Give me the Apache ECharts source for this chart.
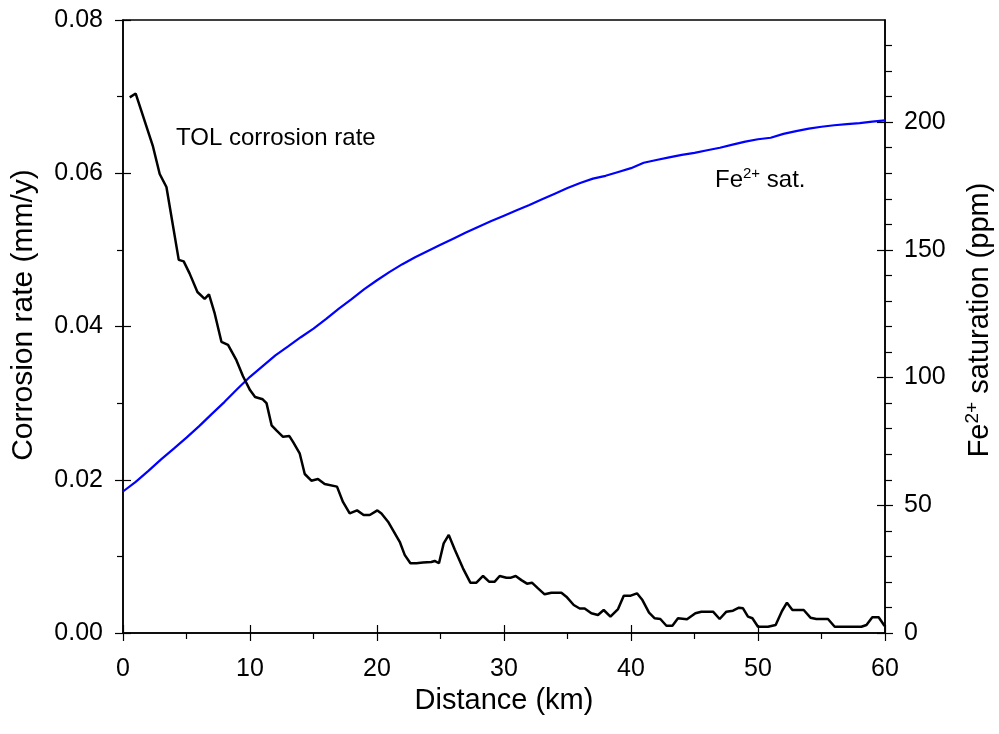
<!DOCTYPE html>
<html>
<head>
<meta charset="utf-8">
<script src="https://cdn.jsdelivr.net/npm/echarts@6/dist/echarts.min.js"></script>
<style>html,body{margin:0;padding:0;background:#fff;}#c{width:999px;height:734px;}</style>
</head>
<body>
<div id="c"></div>
<script>
// Corrosion rate (mm/y) vs distance (km)
var rateDistance = [0.53,1.0,2.36,2.89,3.42,4.39,4.78,5.25,5.86,6.43,6.77,7.22,7.75,8.27,8.93,9.45,10.0,10.4,11.0,11.3,11.7,12.1,12.6,13.1,13.4,13.91,14.31,14.83,15.35,15.88,16.85,17.32,17.85,18.43,18.95,19.43,20.03,20.35,20.87,21.79,22.18,22.63,23.10,23.62,24.28,24.54,24.88,25.25,25.65,26.12,26.77,27.35,27.83,28.35,28.82,29.27,29.66,30.19,30.50,30.92,31.37,31.81,32.20,32.68,33.2,33.73,34.52,34.91,35.49,35.96,36.35,36.88,37.4,37.85,38.38,38.98,39.43,39.98,40.47,40.90,41.42,41.87,42.31,42.79,43.26,43.7,44.41,45.07,45.54,46.46,46.98,47.51,48.03,48.50,48.82,49.21,49.56,50.0,50.79,51.39,51.89,52.28,52.71,53.6,54.13,54.6,55.51,56.04,58.14,58.54,59.0,59.5,59.97];
var rateValues = [0.0699,0.0704,0.0635,0.0599,0.0582,0.0487,0.0485,0.0469,0.0445,0.0436,0.0442,0.0417,0.0380,0.0376,0.0356,0.0335,0.0317,0.0308,0.0305,0.0300,0.0271,0.0264,0.0256,0.0257,0.0249,0.02345,0.02075,0.01988,0.0201,0.01944,0.0191,0.0171,0.0156,0.0160,0.0154,0.0154,0.0160,0.0156,0.01453,0.0119,0.0102,0.0091,0.0091,0.0092,0.00927,0.0094,0.0091,0.0117,0.0128,0.0109,0.00844,0.00657,0.00657,0.00744,0.0067,0.0067,0.00744,0.0072,0.0072,0.00744,0.0069,0.00644,0.00657,0.00583,0.00505,0.00526,0.00526,0.00474,0.00365,0.0032,0.0032,0.00257,0.00235,0.0030,0.00213,0.00313,0.00487,0.00487,0.00518,0.0043,0.00265,0.00192,0.00183,0.00095,0.00095,0.00192,0.00179,0.00257,0.00278,0.00278,0.00183,0.00278,0.00291,0.0033,0.00322,0.00213,0.00192,0.00082,0.00082,0.00104,0.00287,0.00396,0.0030,0.0030,0.0020,0.00183,0.00183,0.00082,0.00082,0.00104,0.00205,0.00205,0.00091];

// Fe2+ saturation (ppm) vs distance (km)
var satDistance = [0,1,2,3,4,5,6,7,8,9,10,11,12,13,14,15,16,17,18,19,20,21,22,23,24,25,26,27,28,29,30,31,32,33,34,35,36,37,38,39,40,41,42,43,44,45,46,47,48,49,50,51,52,53,54,55,56,57,58,59,60];
var satValues = [55.4,59.2,63.5,68,72.2,76.5,81,85.8,90.5,95.5,100.3,104.5,108.7,112.2,115.8,119.2,123,127,130.7,134.6,138.1,141.4,144.4,147.1,149.6,152,154.4,156.8,159.1,161.3,163.4,165.5,167.6,169.8,172,174.2,176.2,177.9,179,180.5,182,184.1,185.2,186.2,187.2,188,189,190,191.2,192.4,193.3,193.9,195.4,196.5,197.5,198.2,198.8,199.2,199.6,200.2,200.7];

var rightMajorTicks = [0,50,100,150,200];
var rightMinorTicks = [10,20,30,40,60,70,80,90,110,120,130,140,160,170,180,190,210,220,230];

var FONT = 'Liberation Sans, Arial, sans-serif';
var chart = echarts.init(document.getElementById('c'));

var rateData = rateDistance.map(function(d,i){return [d, rateValues[i]];});
var satData = satDistance.map(function(d,i){return [d, satValues[i]];});

var lineBlack = {color:'#000', width:1.5};
var tickBlack = {color:'#000', width:1.2};

chart.setOption({
  animation:false,
  backgroundColor:'#fff',
  grid:{left:123,right:114,top:20,bottom:101,show:true,borderColor:'#000',borderWidth:1.5,backgroundColor:'transparent',containLabel:false,outerBoundsMode:'none'},
  xAxis:[
    {type:'value',min:0,max:60,interval:10,position:'bottom',
     axisLine:{show:true,onZero:false,lineStyle:lineBlack},
     axisTick:{show:true,inside:false,length:8,lineStyle:tickBlack},
     minorTick:{show:true,splitNumber:2,length:6,lineStyle:tickBlack},
     axisLabel:{fontSize:25,color:'#000',fontFamily:FONT,margin:24},
     splitLine:{show:false},minorSplitLine:{show:false},
     name:'Distance (km)',nameLocation:'middle',nameGap:44,
     nameTextStyle:{fontSize:29,color:'#000',fontFamily:FONT}},
    {type:'value',min:0,max:60,interval:10,position:'bottom',
     axisLine:{show:false,onZero:false},
     axisTick:{show:true,inside:true,length:8,lineStyle:tickBlack},
     axisLabel:{show:false},splitLine:{show:false}}
  ],
  yAxis:[
    {type:'value',min:0,max:0.08,interval:0.02,position:'left',
     axisLine:{show:true,onZero:false,lineStyle:lineBlack},
     axisTick:{show:true,inside:false,length:8,lineStyle:tickBlack},
     minorTick:{show:true,splitNumber:2,length:6,lineStyle:tickBlack},
     axisLabel:{fontSize:25,color:'#000',fontFamily:FONT,margin:20,formatter:function(v){return v.toFixed(2);}},
     splitLine:{show:false},minorSplitLine:{show:false}},
    {type:'value',min:0,max:0.08,interval:0.02,position:'left',
     axisLine:{show:false,onZero:false},
     axisTick:{show:true,inside:true,length:8,lineStyle:tickBlack},
     axisLabel:{show:false},splitLine:{show:false}},
    {type:'value',min:0,max:240,position:'right',
     axisLine:{show:true,onZero:false,lineStyle:lineBlack},
     axisTick:{show:true,inside:false,length:8,lineStyle:tickBlack,customValues:rightMajorTicks},
     axisLabel:{fontSize:25,color:'#000',fontFamily:FONT,margin:19,customValues:rightMajorTicks},
     splitLine:{show:false}},
    {type:'value',min:0,max:240,position:'right',
     axisLine:{show:false,onZero:false},
     axisTick:{show:true,inside:true,length:8,lineStyle:tickBlack,customValues:rightMajorTicks},
     axisLabel:{show:false},splitLine:{show:false}},
    {type:'value',min:0,max:240,position:'right',
     axisLine:{show:false,onZero:false},
     axisTick:{show:true,inside:false,length:7,lineStyle:tickBlack,customValues:rightMinorTicks},
     axisLabel:{show:false},splitLine:{show:false}}
  ],
  series:[
    {type:'line',name:'TOL corrosion rate',xAxisIndex:0,yAxisIndex:0,data:rateData,
     showSymbol:false,symbol:'none',lineStyle:{color:'#000',width:2.5},itemStyle:{color:'#000'},z:3},
    {type:'line',name:'Fe2+ sat.',xAxisIndex:0,yAxisIndex:2,data:satData,
     showSymbol:false,symbol:'none',lineStyle:{color:'#0000ff',width:2.2},itemStyle:{color:'#0000ff'},z:2}
  ],
  graphic:[
    {type:'text',x:24,y:315,rotation:Math.PI/2,
     style:{text:'Corrosion rate (mm/y)',fontSize:30,fontFamily:FONT,fill:'#000',align:'center',verticalAlign:'middle'}},
    {type:'text',x:980,y:320,rotation:Math.PI/2,
     style:{text:'Fe{sup|2+} saturation (ppm)',fontSize:29,fontFamily:FONT,fill:'#000',align:'center',verticalAlign:'middle',lineHeight:34,
       rich:{sup:{fontSize:19,fontFamily:FONT,fill:'#000',verticalAlign:'top',lineHeight:19}}}},
    {type:'text',left:176,top:126,style:{text:'TOL corrosion rate',fontSize:24,fontFamily:FONT,fill:'#000'}},
    {type:'text',left:715,top:166,style:{text:'Fe{sup|2+} sat.',fontSize:24,fontFamily:FONT,fill:'#000',lineHeight:28,
      rich:{sup:{fontSize:15,fontFamily:FONT,fill:'#000',verticalAlign:'top',lineHeight:15}}}}
  ]
});
</script>
</body>
</html>
